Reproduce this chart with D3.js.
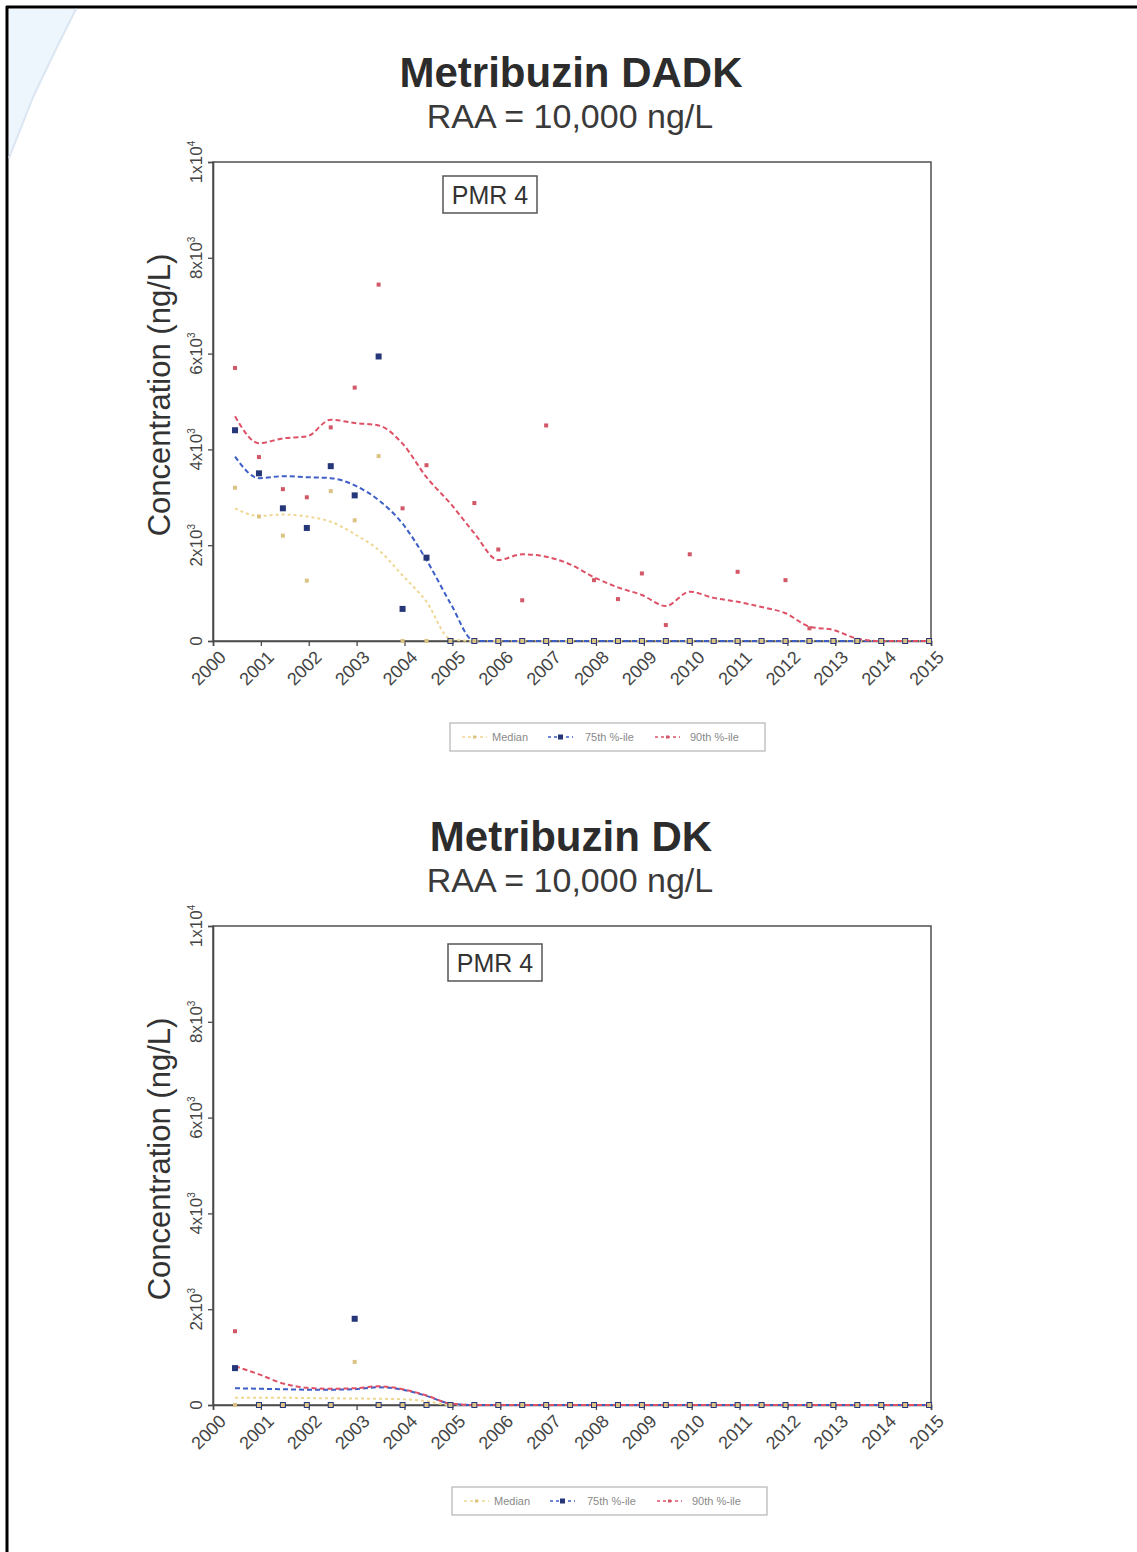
<!DOCTYPE html>
<html>
<head>
<meta charset="utf-8">
<script src="https://cdn.jsdelivr.net/npm/d3@7"></script>
<style>
  html, body { margin: 0; padding: 0; background: #ffffff; }
  svg { display: block; font-family: "Liberation Sans", Arial, Helvetica, sans-serif; }
</style>
</head>
<body>
<svg id="chart" width="1137" height="1552"></svg>
<script>
// ---- Data -------------------------------------------------------------

// Semi-annual sampling times (decimal years)
const sampleTimes = [2000.46, 2000.96, 2001.46, 2001.96, 2002.46, 2002.96, 2003.46, 2003.96,
  2004.46, 2004.96, 2005.46, 2005.96, 2006.46, 2006.96, 2007.46, 2007.96, 2008.46, 2008.96,
  2009.46, 2009.96, 2010.46, 2010.96, 2011.46, 2011.96, 2012.46, 2012.96, 2013.46, 2013.96,
  2014.46, 2014.96];

// Metribuzin DADK, ng/L (null = no sample)
const dadkMedian = [3200, 2600, 2200, 1260, 3130, 2520, 3860, 0, 0, 0, 0, 0, 0, 0, 0, 0,
  0, 0, 0, 0, 0, 0, 0, 0, 0, 0, 0, 0, 0, 0];
const dadkP75 = [4400, 3500, 2770, 2360, 3650, 3040, 5940, 670, 1740, 0, 0, 0, 0, 0, 0, 0,
  0, 0, 0, 0, 0, 0, 0, 0, 0, 0, 0, 0, 0, 0];
const dadkP90 = [5700, 3840, 3170, 3000, 4460, 5290, 7440, 2770, 3670, null, 2880, 1910, 850,
  4500, null, 1270, 875, 1410, 333, 1810, null, 1445, null, 1270, 265, 0, 0, 0, 0, 0];
// Smoothed trends
const dadkMedianTrend = [2770, 2610, 2640, 2600, 2490, 2230, 1900, 1370, 820, 40, 0, 0, 0, 0,
  0, 0, 0, 0, 0, 0, 0, 0, 0, 0, 0, 0, 0, 0, 0, 0];
const dadkP75Trend = [3850, 3400, 3440, 3420, 3400, 3250, 2940, 2450, 1690, 790, 0, 0, 0, 0,
  0, 0, 0, 0, 0, 0, 0, 0, 0, 0, 0, 0, 0, 0, 0, 0];
const dadkP90Trend = [4690, 4130, 4230, 4270, 4620, 4550, 4500, 4120, 3420, 2870, 2250, 1690,
  1810, 1760, 1600, 1330, 1120, 960, 730, 1030, 900, 820, 710, 580, 300, 230, 50, 0, 0, 0];

// Metribuzin DK, ng/L
const dkMedian = [0, 0, 0, 0, 0, 900, 0, 0, 0, 0, 0, 0, 0, 0, 0, 0,
  0, 0, 0, 0, 0, 0, 0, 0, 0, 0, 0, 0, 0, 0];
const dkP75 = [770, 0, 0, 0, 0, 1800, 0, 0, 0, 0, 0, 0, 0, 0, 0, 0,
  0, 0, 0, 0, 0, 0, 0, 0, 0, 0, 0, 0, 0, 0];
const dkP90 = [1540, 0, 0, 0, 0, 1800, 0, 0, 0, 0, 0, 0, 0, 0, 0, 0,
  0, 0, 0, 0, 0, 0, 0, 0, 0, 0, 0, 0, 0, 0];
const dkMedianTrend = [150, 150, 150, 145, 140, 135, 130, 120, 80, 0, 0, 0, 0, 0, 0, 0,
  0, 0, 0, 0, 0, 0, 0, 0, 0, 0, 0, 0, 0, 0];
const dkP75Trend = [350, 340, 330, 320, 320, 330, 370, 320, 190, 30, 0, 0, 0, 0, 0, 0,
  0, 0, 0, 0, 0, 0, 0, 0, 0, 0, 0, 0, 0, 0];
const dkP90Trend = [810, 640, 450, 360, 340, 350, 390, 330, 200, 30, 0, 0, 0, 0, 0, 0,
  0, 0, 0, 0, 0, 0, 0, 0, 0, 0, 0, 0, 0, 0];

// Axis ticks
const xTickYears = [2000, 2001, 2002, 2003, 2004, 2005, 2006, 2007, 2008, 2009, 2010, 2011,
  2012, 2013, 2014, 2015];
const yTickValues = [0, 2000, 4000, 6000, 8000, 10000];
const yTickMantissa = ["0", "2x10", "4x10", "6x10", "8x10", "1x10"];
const yTickExponent = ["", "3", "3", "3", "3", "4"];

const seriesNames = ["Median", "75th %-ile", "90th %-ile"];

// ---- Styling ------------------------------------------------------------
const seriesStyle = [
  { point: "#dcc384", line: "#eed792", dash: "3,3", size: 4 },
  { point: "#263779", line: "#3c5ec6", dash: "5,3", size: 6 },
  { point: "#d25868", line: "#de5165", dash: "5,3", size: 4 }
];

const svg = d3.select("#chart");
const PLOT_LEFT = 213, PLOT_RIGHT = 931, PLOT_H = 479;

// page frame (left and top edges)
svg.append("line").attr("x1", 7).attr("y1", 6).attr("x2", 7).attr("y2", 1552)
  .attr("stroke", "#000").attr("stroke-width", 3);
svg.append("line").attr("x1", 6).attr("y1", 7).attr("x2", 1137).attr("y2", 7)
  .attr("stroke", "#000").attr("stroke-width", 3);

// faint bluish wedge in the upper-left corner of the sheet
svg.append("path")
  .attr("d", d3.line()([[9, 9], [76, 9], [58, 45], [34, 95], [9, 158]]))
  .attr("fill", "#edf5fd");
svg.append("path")
  .attr("d", d3.line()([[76, 9], [58, 45], [34, 95], [9, 158]]))
  .attr("fill", "none").attr("stroke", "#dbe6f2").attr("stroke-width", 2);

function drawPanel(top, spec) {
  const g = svg.append("g");
  const x = d3.scaleLinear().domain([2000, 2015]).range([PLOT_LEFT, PLOT_RIGHT]);
  const y = d3.scaleLinear().domain([0, 10000]).range([top + PLOT_H, top]);

  // titles
  g.append("text").attr("x", 571).attr("y", top - 75)
    .attr("text-anchor", "middle").attr("font-size", 42).attr("font-weight", "bold")
    .attr("fill", "#2c2c2c").text(spec.title);
  g.append("text").attr("x", 570).attr("y", top - 34)
    .attr("text-anchor", "middle").attr("font-size", 34)
    .attr("fill", "#3a3a3a").text(spec.subtitle);

  // plot frame
  g.append("rect").attr("x", PLOT_LEFT).attr("y", top)
    .attr("width", PLOT_RIGHT - PLOT_LEFT).attr("height", PLOT_H)
    .attr("fill", "none").attr("stroke", "#5a5a5a").attr("stroke-width", 1.6);

  // x axis
  const xAxis = g.append("g").attr("transform", `translate(0,${top + PLOT_H})`)
    .call(d3.axisBottom(x).tickValues(xTickYears).tickSize(5).tickFormat(d3.format("d")));
  xAxis.select(".domain").attr("stroke", "#4a4a4a").attr("stroke-width", 1.6);
  xAxis.selectAll(".tick line").attr("stroke", "#4a4a4a").attr("stroke-width", 1.3);
  xAxis.selectAll(".tick text")
    .attr("font-family", "Liberation Sans, Arial, sans-serif")
    .attr("font-size", 18).attr("fill", "#444")
    .attr("text-anchor", "middle")
    .attr("y", 0).attr("dy", "0.35em")
    .attr("transform", "translate(-5,27) rotate(-45)");

  // y axis
  const yAxis = g.append("g").attr("transform", `translate(${PLOT_LEFT},0)`)
    .call(d3.axisLeft(y).tickValues(yTickValues).tickSize(5).tickFormat(""));
  yAxis.select(".domain").attr("stroke", "#4a4a4a").attr("stroke-width", 1.6);
  yAxis.selectAll(".tick line").attr("stroke", "#4a4a4a").attr("stroke-width", 1.3);
  yTickValues.forEach((v, i) => {
    const t = g.append("text")
      .attr("transform", `translate(${PLOT_LEFT - 11},${y(v)}) rotate(-90)`)
      .attr("text-anchor", "middle").attr("font-size", 17).attr("fill", "#444");
    t.append("tspan").text(yTickMantissa[i]);
    if (yTickExponent[i]) {
      t.append("tspan").attr("dy", -7).attr("font-size", 10).text(yTickExponent[i]);
    }
  });

  // y axis title
  g.append("text")
    .attr("transform", `translate(170,${top + 233}) rotate(-90)`)
    .attr("text-anchor", "middle").attr("font-size", 31).attr("fill", "#333")
    .text("Concentration (ng/L)");

  // smoothed trend lines
  const line = d3.line()
    .x((d, i) => x(sampleTimes[i]))
    .y(d => y(d))
    .curve(d3.curveMonotoneX);
  spec.trends.forEach((tr, s) => {
    g.append("path").datum(tr)
      .attr("d", line)
      .attr("fill", "none")
      .attr("stroke", seriesStyle[s].line)
      .attr("stroke-width", 2)
      .attr("stroke-dasharray", seriesStyle[s].dash);
  });

  // sample points (90th, 75th, then median on top)
  [2, 1, 0].forEach(s => {
    const st = seriesStyle[s];
    const pts = spec.points[s]
      .map((v, i) => ({ t: sampleTimes[i], v }))
      .filter(d => d.v !== null);
    g.append("g").selectAll("rect").data(pts).join("rect")
      .attr("x", d => x(d.t) - st.size / 2)
      .attr("y", d => y(d.v) - st.size / 2)
      .attr("width", st.size).attr("height", st.size)
      .attr("fill", st.point);
  });

  // station label box
  g.append("rect").attr("x", spec.pmr[0]).attr("y", top + spec.pmr[1])
    .attr("width", 94).attr("height", 37)
    .attr("fill", "#fff").attr("stroke", "#555").attr("stroke-width", 1.5);
  g.append("text").attr("x", spec.pmr[0] + 47).attr("y", top + spec.pmr[1] + 28)
    .attr("text-anchor", "middle").attr("font-size", 25).attr("fill", "#333")
    .text("PMR 4");

  // legend
  const ly = top + 575;
  const lg = g.append("g");
  lg.append("rect").attr("x", spec.legendX).attr("y", top + 561)
    .attr("width", 315).attr("height", 28)
    .attr("fill", "#fff").attr("stroke", "#b5b5b5").attr("stroke-width", 1.2);
  const sampleX = [12, 98, 205];
  const textX = [42, 135, 240];
  seriesNames.forEach((name, s) => {
    const st = seriesStyle[s];
    const x0 = spec.legendX + sampleX[s];
    lg.append("line").attr("x1", x0).attr("x2", x0 + 25).attr("y1", ly).attr("y2", ly)
      .attr("stroke", st.line).attr("stroke-width", 1.5).attr("stroke-dasharray", "3,3");
    lg.append("rect").attr("x", x0 + 12.5 - st.size / 2 + 0.5).attr("y", ly - st.size / 2 + 0.5)
      .attr("width", st.size - 1).attr("height", st.size - 1).attr("fill", st.point);
    lg.append("text").attr("x", spec.legendX + textX[s]).attr("y", ly + 4)
      .attr("font-size", 11).attr("fill", "#8a8a8a").text(name);
  });
}

drawPanel(162, {
  title: "Metribuzin DADK",
  subtitle: "RAA = 10,000 ng/L",
  points: [dadkMedian, dadkP75, dadkP90],
  trends: [dadkMedianTrend, dadkP75Trend, dadkP90Trend],
  pmr: [443, 14],
  legendX: 450
});

drawPanel(926, {
  title: "Metribuzin DK",
  subtitle: "RAA = 10,000 ng/L",
  points: [dkMedian, dkP75, dkP90],
  trends: [dkMedianTrend, dkP75Trend, dkP90Trend],
  pmr: [448, 18],
  legendX: 452
});
</script>
</body>
</html>
